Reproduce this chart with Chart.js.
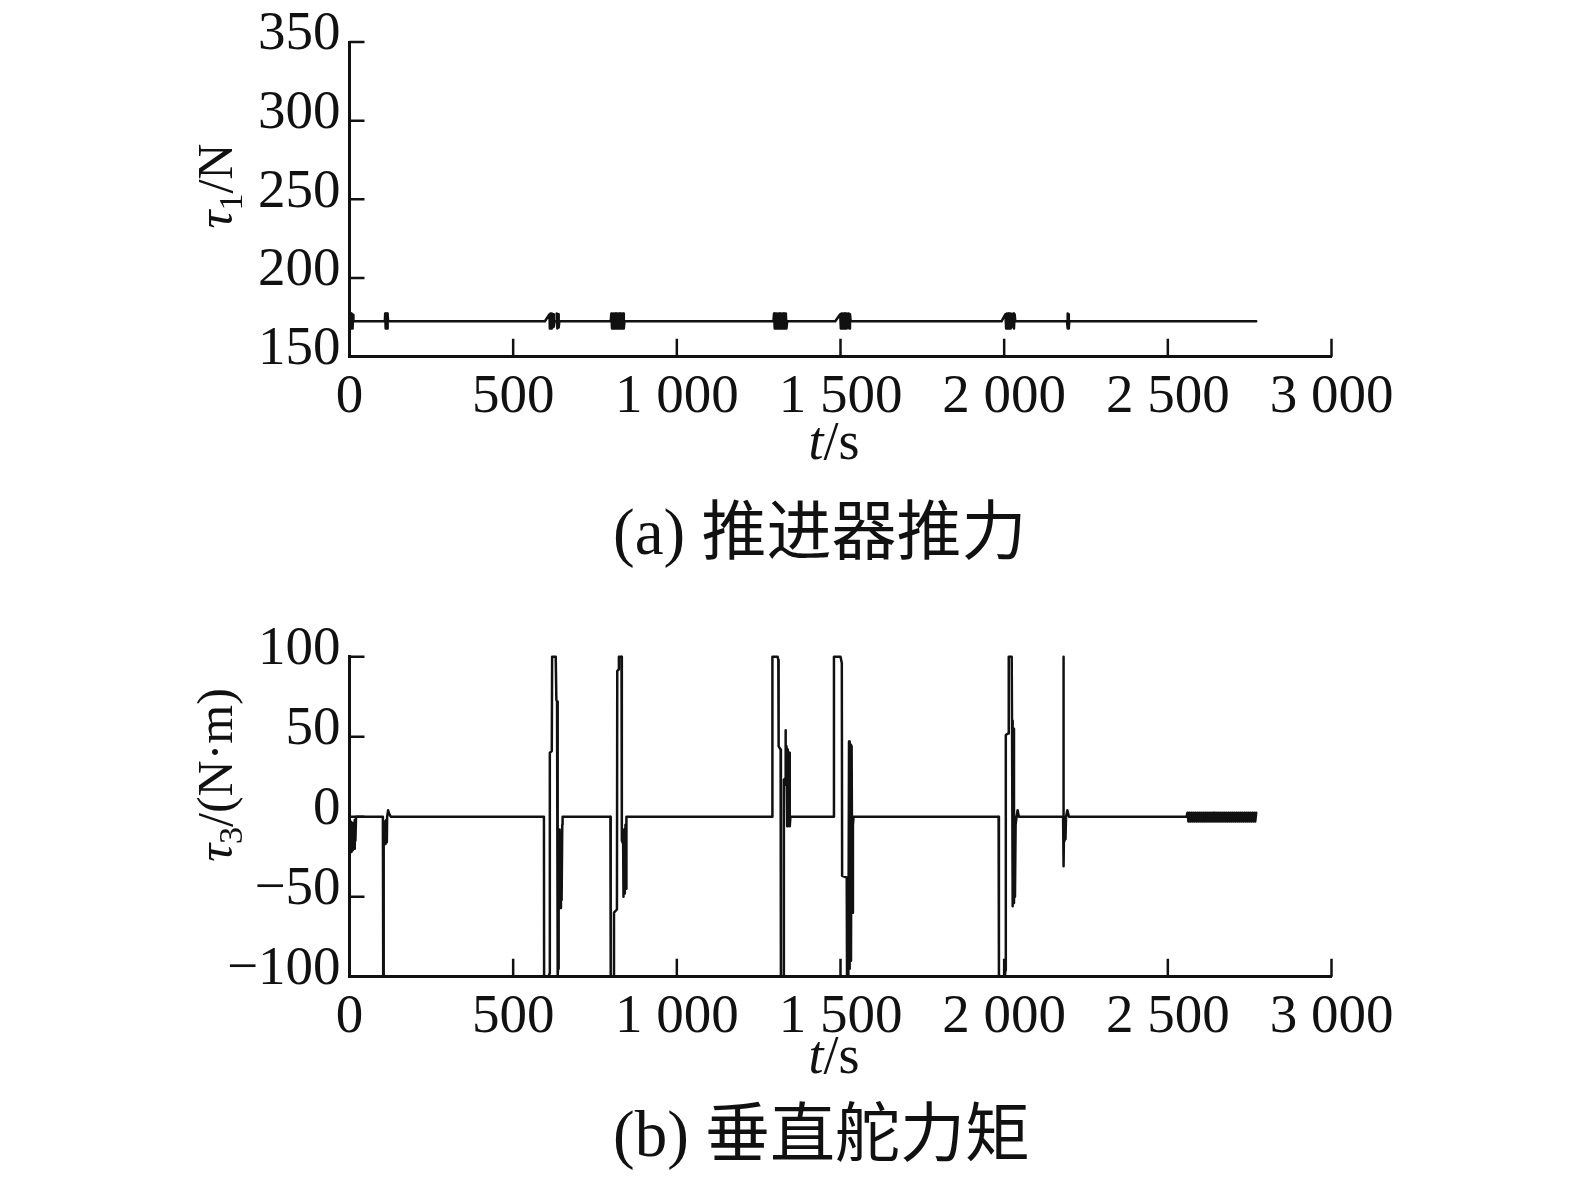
<!DOCTYPE html>
<html>
<head>
<meta charset="utf-8">
<script src="https://cdn.jsdelivr.net/npm/chart.js@4.4.0/dist/chart.umd.min.js"></script>
<style>
  body { margin: 0; background: #fff; width: 1575px; height: 1188px; position: relative; overflow: hidden; }
  canvas { position: absolute; left: 0; }
  #thrust { top: 0; }
  #moment { top: 600px; }
  .caption { position: absolute; left: 613px; font-size: 65px; line-height: 65px; color: #111; white-space: nowrap; }
  .caption .lat { font-family: 'Liberation Serif'; }
  .caption .cjk { font-family: 'Noto Sans CJK SC'; }
</style>
</head>
<body>
<canvas id="thrust" width="1575" height="480"></canvas>
<div class="caption" style="top:494px"><span class="lat">(a) </span><span class="cjk">推进器推力</span></div>
<canvas id="moment" width="1575" height="500"></canvas>
<div class="caption" style="top:1096px"><span class="lat">(b) </span><span class="cjk">垂直舵力矩</span></div>
<script>
// (a) thruster force tau1, N
var thrustTime = [
  0, 1, 2, 3, 4, 5, 6, 7, 8, 9, 10, 11, 12,
  108, 109, 110, 111, 112, 113, 114, 115, 116, 117, 118,
  597, 611, 612, 614, 616, 618, 620, 622, 624, 626, 632, 633, 635, 637, 639, 641,
  798, 800, 802, 804, 806, 808, 810, 812, 814, 816, 818, 820, 822, 824, 826, 828, 830, 832, 834, 836, 838, 840,
  1295, 1297, 1299, 1301, 1303, 1305, 1307, 1309, 1311, 1313, 1315, 1317, 1319, 1321, 1323, 1325, 1327, 1329, 1331, 1333, 1335, 1337,
  1484, 1499, 1501, 1503, 1505, 1507, 1509, 1511, 1513, 1515, 1517, 1519, 1521, 1522, 1525, 1527, 1529, 1531,
  1992, 2004, 2006, 2008, 2010, 2012, 2014, 2016, 2018, 2020, 2022, 2024, 2025, 2028, 2030, 2032, 2034,
  2192, 2193, 2194, 2195, 2196, 2197, 2198, 2199, 2770
];
var thrustForce = [
  172.5, 177.5, 168, 177.5, 168, 177.5, 168, 177.5, 168, 177, 168.5, 176.5, 172.5,
  172.5, 177.5, 168, 177.5, 168, 177.5, 168, 177.5, 168, 177, 172.5,
  172.5, 177, 168, 177.5, 168, 177.5, 168.5, 177, 169, 172.5, 172.5, 177.5, 168, 177, 168.5, 172.5,
  172.5, 177.5, 168, 177.5, 168, 177.5, 168, 177.5, 168, 177.5, 168, 177.5, 168, 177.5, 168, 177.5, 168, 177.5, 168, 177.5, 168, 172.5,
  172.5, 177.5, 168, 177.5, 168, 177.5, 168, 177.5, 168, 177.5, 168, 177.5, 168, 177.5, 168, 177.5, 168, 177.5, 168, 177.5, 168, 172.5,
  172.5, 177, 168, 177.5, 168, 177.5, 168, 177.5, 168, 177.5, 168, 177.5, 168.5, 172.5, 177.5, 168, 177, 172.5,
  172.5, 177, 168, 177.5, 168, 177.5, 168, 177.5, 168, 177.5, 168.5, 177, 172.5, 177.5, 168, 177, 172.5,
  172.5, 177.5, 168, 177.5, 168, 177, 168.5, 172.5, 172.5
];

// (b) vertical rudder moment tau3, N·m
var momentTime = [
  0, 2, 4, 6, 8, 10, 12, 14, 16, 18, 20,
  102, 103, 104, 105, 106, 108, 110, 112, 114, 115, 118, 121, 126,
  594, 594.5, 608, 611, 612, 618, 619, 630, 632, 634, 636, 637, 638, 640, 642, 644, 646, 648, 650, 651,
  797, 798, 806, 808, 817, 818, 822, 823, 831, 832, 836, 837, 839, 841, 843, 845, 846,
  1291, 1292, 1308, 1310, 1311, 1317, 1318, 1325, 1327, 1331, 1332, 1333, 1335, 1337, 1339, 1341, 1343, 1345, 1347,
  1479, 1480, 1500, 1504, 1505, 1519, 1520, 1524, 1526, 1528, 1530, 1532, 1534, 1536, 1538, 1540,
  1983, 1984, 2002, 2004, 2005, 2012, 2014, 2023, 2024, 2026, 2028, 2030, 2032, 2033, 2035, 2038, 2041, 2045,
  2180, 2181, 2182, 2183, 2184, 2185, 2186, 2187, 2188, 2189, 2193, 2198, 2557
];
var momentTorque = [
  0, -20, -3, -22, -4, -21, -5, -20, -2, -15, 0,
  0, -100, -100, -5, -17, -3, -17, -2, -16, 0, 4, 2, 0,
  0, -100, -100, -98, 40, 41, 100, 100, 73, 72, -100, -95, -10, -55, -8, -57, -10, -52, -5, 0,
  0, -100, -100, -60, -58, 91, 92, 100, 100, -15, -17, -50, -8, -48, -5, -45, 0,
  0, 100, 100, 98, 44, 42, -100, -100, 23, 24, 54, 20, 44, -6, 42, -5, 40, -6, 0,
  0, 100, 100, 96, -37, -38, -100, -100, 47, -95, 45, -90, 44, -60, -5, 0,
  0, -100, -100, -96, 51, 52, 100, 100, 60, -56, 55, -54, 0, -50, -5, 0, 4, 0,
  0, 100, -31, -5, -15, -2, -14, -3, -13, 0, 4, 0, 0
];
// chattering at the end of the run
var rippleTime = [
  2560, 2563, 2566, 2569, 2572, 2575, 2578, 2581, 2584, 2587,
  2590, 2593, 2596, 2599, 2602, 2605, 2608, 2611, 2614, 2617,
  2620, 2623, 2626, 2629, 2632, 2635, 2638, 2641, 2644, 2647,
  2650, 2653, 2656, 2659, 2662, 2665, 2668, 2671, 2674, 2677,
  2680, 2683, 2686, 2689, 2692, 2695, 2698, 2701, 2704, 2707,
  2710, 2713, 2716, 2719, 2722, 2725, 2728, 2731, 2734, 2737,
  2740, 2743, 2746, 2749, 2752, 2755, 2758, 2761, 2764, 2767,
  2770
];
var rippleTorque = [
  2.5, -3, 2.5, -3, 2.5, -3, 2.5, -3, 2.5, -3,
  2.5, -3, 2.5, -3, 2.5, -3, 2.5, -3, 2.5, -3,
  2.5, -3, 2.5, -3, 2.5, -3, 2.5, -3, 2.5, -3,
  2.5, -3, 2.5, -3, 2.5, -3, 2.5, -3, 2.5, -3,
  2.5, -3, 2.5, -3, 2.5, -3, 2.5, -3, 2.5, -3,
  2.5, -3, 2.5, -3, 2.5, -3, 2.5, -3, 2.5, -3,
  2.5, -3, 2.5, -3, 2.5, -3, 2.5, -3, 2.5, -3,
  2.5
];

var SERIF = 'Liberation Serif';
var INK = '#111';

function toPoints(ts, vs) {
  return ts.map(function (t, i) { return { x: t, y: vs[i] }; });
}

// "1000" -> "1 000", minus sign as in the print
function fmtTick(v) {
  var s = String(Math.abs(v));
  if (Math.abs(v) >= 1000) s = s.slice(0, -3) + ' ' + s.slice(-3);
  return (v < 0 ? '\u2212' : '') + s;
}

// text made of pieces (italic t, subscripts...)
function drawRich(ctx, parts, x, y, angle) {
  ctx.save();
  ctx.translate(x, y);
  ctx.rotate(angle);
  ctx.fillStyle = INK;
  ctx.textBaseline = 'alphabetic';
  var total = 0;
  parts.forEach(function (p) { ctx.font = p.font; total += ctx.measureText(p.text).width; });
  var cx = -total / 2;
  parts.forEach(function (p) {
    ctx.font = p.font;
    ctx.fillText(p.text, cx, p.dy || 0);
    cx += ctx.measureText(p.text).width;
  });
  ctx.restore();
}

var IT = 'italic 54px ' + SERIF, RM = '54px ' + SERIF;
var YIT = 'italic 50px ' + SERIF, YRM = '50px ' + SERIF, SUB = '34px ' + SERIF;

// ticks pointing into the plot + axis titles
var axisDecor = {
  id: 'axisDecor',
  afterDraw: function (chart, args, opts) {
    var ctx = chart.ctx, area = chart.chartArea;
    var xs = chart.scales.x, ys = chart.scales.y;
    ctx.save();
    ctx.strokeStyle = INK;
    ctx.lineWidth = 2.5;
    ctx.beginPath();
    xs.ticks.forEach(function (t) {
      var px = xs.getPixelForValue(t.value);
      ctx.moveTo(px, area.bottom);
      ctx.lineTo(px, area.bottom - 18);
    });
    ys.ticks.forEach(function (t) {
      var py = ys.getPixelForValue(t.value);
      ctx.moveTo(area.left, py);
      ctx.lineTo(area.left + 15, py);
    });
    ctx.stroke();
    ctx.restore();
    drawRich(ctx, opts.xTitle, opts.xPos[0], opts.xPos[1], 0);
    drawRich(ctx, opts.yTitle, opts.yPos[0], opts.yPos[1], -Math.PI / 2);
  }
};

function makeChart(id, points, yMin, yMax, padTop, xHeight, titles) {
  return new Chart(document.getElementById(id), {
    type: 'line',
    data: {
      datasets: [{
        data: points,
        borderColor: INK,
        borderWidth: 2.5,
        borderJoinStyle: 'round',
        borderCapStyle: 'round',
        pointRadius: 0,
        tension: 0,
        fill: false,
        clip: 4
      }]
    },
    options: {
      responsive: false,
      animation: false,
      layout: { padding: { left: 0, top: padTop, right: 243.5, bottom: 0 } },
      plugins: {
        legend: { display: false },
        tooltip: { enabled: false },
        axisDecor: titles
      },
      scales: {
        x: {
          type: 'linear',
          min: 0,
          max: 3000,
          grid: { display: false, drawTicks: false },
          border: { display: true, width: 3, color: INK },
          ticks: {
            stepSize: 500, padding: 8, maxRotation: 0, color: INK,
            font: { family: SERIF, size: 55 },
            callback: fmtTick
          },
          afterFit: function (s) { s.height = xHeight; }
        },
        y: {
          type: 'linear',
          min: yMin,
          max: yMax,
          grid: { display: false, drawTicks: false },
          border: { display: true, width: 3, color: INK },
          ticks: {
            stepSize: 50, padding: 9, labelOffset: -7, color: INK,
            font: { family: SERIF, size: 55 },
            callback: fmtTick
          },
          afterFit: function (s) { s.width = 349.5; }
        }
      }
    },
    plugins: [axisDecor]
  });
}

makeChart('thrust', toPoints(thrustTime, thrustForce), 150, 350, 35, 123.3, {
  xTitle: [{ text: 't', font: IT }, { text: '/s', font: RM }],
  xPos: [834, 459],
  yTitle: [{ text: '\u03c4', font: YIT }, { text: '1', font: SUB, dy: 10 }, { text: '/N', font: YRM }],
  yPos: [232, 186]
});

makeChart('moment', toPoints(momentTime, momentTorque).concat(toPoints(rippleTime, rippleTorque)), -100, 100, 56.7, 123.3, {
  xTitle: [{ text: 't', font: IT }, { text: '/s', font: RM }],
  xPos: [834, 473],
  yTitle: [{ text: '\u03c4', font: YIT }, { text: '3', font: SUB, dy: 10 }, { text: '/(N\u00b7m)', font: YRM }],
  yPos: [231.5, 175]
});
</script>
</body>
</html>
